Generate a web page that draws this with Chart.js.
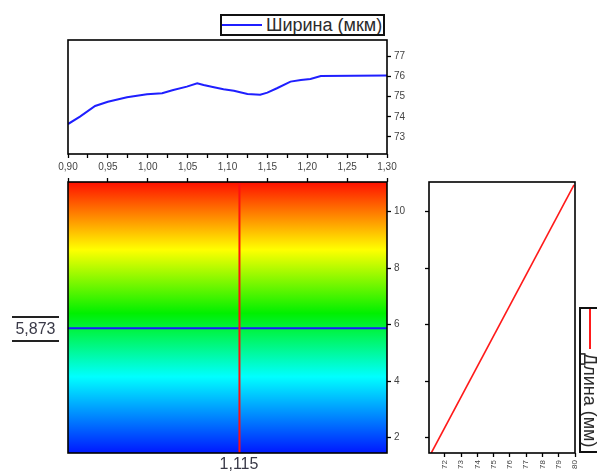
<!DOCTYPE html>
<html>
<head>
<meta charset="utf-8">
<script src="https://cdn.jsdelivr.net/npm/chart.js@4.4.1/dist/chart.umd.min.js"></script>
<style>
html,body{margin:0;padding:0;background:#fff;}
#wrap{position:relative;width:597px;height:473px;overflow:hidden;background:#fff;font-family:"Liberation Sans",Arial,sans-serif;}
#wrap canvas{position:absolute;left:0;top:0;}
.legend{position:absolute;box-sizing:border-box;border:2px solid #111;background:#fff;height:22px;display:flex;align-items:center;white-space:nowrap;overflow:hidden;}
.legend .sw{display:inline-block;width:40px;height:2px;margin-left:0;margin-right:4px;flex:none;}
.legend .txt{font-size:18px;line-height:18px;color:#2b2b2b;}
#lblY{position:absolute;left:12px;top:316px;width:47px;height:26px;box-sizing:border-box;border-top:2px solid #222;border-bottom:2px solid #222;font-size:16px;line-height:22px;text-align:center;color:#3a3a48;}
#lblX{position:absolute;left:209px;top:456px;width:60px;text-align:center;font-size:16px;line-height:16px;color:#3a3a48;}
</style>
</head>
<body>
<div id="wrap">
  <canvas id="cMain" width="597" height="473"></canvas>
  <canvas id="cTop" width="597" height="473"></canvas>
  <canvas id="cSide" width="597" height="473"></canvas>
  <div class="legend" id="legTop" style="left:220px;top:14px;width:165px;"><span class="sw" style="background:#1f1fff"></span><span class="txt">Ширина (мкм)</span></div>
  <div class="legend" id="legSide" style="left:517px;top:369px;width:146px;transform:rotate(90deg);"><span class="sw" style="background:#ff1a1a"></span><span class="txt">Длина (мм)</span></div>
  <div id="lblY"></div>
  <div id="lblX"></div>
</div>
<script>
// ---------- data ----------
// top profile: width (µm) vs X
const profileX = [0.900, 0.915, 0.934, 0.950, 0.974, 0.999, 1.018, 1.032, 1.049, 1.062, 1.070, 1.083, 1.095, 1.108, 1.125, 1.141, 1.150, 1.162, 1.179, 1.192, 1.204, 1.217, 1.300];
const widthUm  = [73.64, 74.01, 74.54, 74.75, 74.97, 75.12, 75.17, 75.33, 75.50, 75.67, 75.58, 75.47, 75.37, 75.30, 75.13, 75.10, 75.20, 75.42, 75.75, 75.83, 75.88, 76.03, 76.05];
// axis ranges
const xRange = [0.90, 1.30];
const yRange = [1.45, 11.05];
const widthRange = [72.15, 77.82];
const sideRange = [71.02, 80.0];
// heat map colour map (value -> colour)
const colorStopValues = [1.45, 4.15, 6.40, 8.65, 11.05];
const colorStopColors = ['#0018ff', '#00ffff', '#00f000', '#ffff00', '#ff1000'];
// cursor position
const cursorX = 1.115;
const cursorY = 5.873;
// side profile: length (mm) vs value
const sideValue  = [71.16, 79.94];
const sideLength = [1.45, 10.95];

// ---------- helpers ----------
const fmt = (v, d) => v.toFixed(d).replace('.', ',');
Chart.defaults.font.family = '"Liberation Sans", Arial, sans-serif';
Chart.defaults.color = '#444';
const frame = {id:'frame', afterDatasetsDraw(chart){
  const {ctx, chartArea:a} = chart;
  ctx.save(); ctx.strokeStyle = '#000'; ctx.lineWidth = 1.6;
  ctx.strokeRect(a.left, a.top, a.right - a.left, a.bottom - a.top);
  ctx.restore();
}};
const tickGrid = {display:true, drawOnChartArea:false, drawTicks:true, tickLength:4, color:'#000', tickColor:'#000', tickWidth:1.3};
const common = {responsive:false, animation:false, events:[], plugins:{legend:{display:false}, tooltip:{enabled:false}}};

document.getElementById('lblY').textContent = fmt(cursorY, 3);
document.getElementById('lblX').textContent = fmt(cursorX, 3);

// ---------- top profile ----------
new Chart(document.getElementById('cTop'), {
  type:'line',
  data:{datasets:[{data: profileX.map((x,i)=>({x, y: widthUm[i]})), borderColor:'#1f1fff', borderWidth:2, pointRadius:0, tension:0, fill:false}]},
  options:Object.assign({}, common, {
    layout:{padding:{left:68, top:40, right:180, bottom:294}},
    scales:{
      x:{type:'linear', position:'bottom', min:xRange[0], max:xRange[1], afterFit(s){s.height = 25;},
         grid:tickGrid, border:{display:false},
         ticks:{stepSize:0.025, autoSkip:false, minRotation:0, maxRotation:0, padding:3, font:{size:10},
                callback:v => Math.abs(Math.round(v/0.05)*0.05 - v) < 1e-6 ? fmt(v,2) : ''}},
      y:{type:'linear', position:'right', min:widthRange[0], max:widthRange[1], afterFit(s){s.width = 30;},
         grid:tickGrid, border:{display:false},
         ticks:{stepSize:1, includeBounds:false, padding:3, font:{size:10}, callback:v => String(v)}}
    }
  }),
  plugins:[frame]
});

// ---------- main heat map ----------
function heatFill(context){
  const ch = context.chart;
  if (!ch.chartArea) return colorStopColors[0];
  const ys = ch.scales.y;
  const v0 = colorStopValues[0], v1 = colorStopValues[colorStopValues.length-1];
  const g = ch.ctx.createLinearGradient(0, ys.getPixelForValue(v0), 0, ys.getPixelForValue(v1));
  colorStopValues.forEach((v,i) => g.addColorStop((v - v0)/(v1 - v0), colorStopColors[i]));
  return g;
}
new Chart(document.getElementById('cMain'), {
  type:'line',
  data:{datasets:[
    {order:10, data:[{x:xRange[0], y:yRange[1]}, {x:xRange[1], y:yRange[1]}], fill:{value:yRange[0]}, backgroundColor:heatFill, borderWidth:0, pointRadius:0},
    {order:2, data:[{x:xRange[0], y:cursorY}, {x:xRange[1], y:cursorY}], borderColor:'#1a1aff', borderWidth:2, pointRadius:0, fill:false},
    {order:1, data:[{x:cursorX, y:yRange[0]}, {x:cursorX, y:yRange[1]}], borderColor:'#ff1010', borderWidth:2, pointRadius:0, fill:false}
  ]},
  options:Object.assign({}, common, {
    layout:{padding:{left:68, top:172, right:180, bottom:20}},
    scales:{
      x:{type:'linear', position:'top', min:xRange[0], max:xRange[1], afterFit(s){s.height = 10;},
         grid:tickGrid, border:{display:false}, ticks:{display:false, stepSize:0.05}},
      y:{type:'linear', position:'right', min:yRange[0], max:yRange[1], afterFit(s){s.width = 30;},
         grid:tickGrid, border:{display:false},
         ticks:{stepSize:2, includeBounds:false, padding:3, font:{size:10}}}
    }
  }),
  plugins:[frame]
});

// ---------- side profile ----------
new Chart(document.getElementById('cSide'), {
  type:'line',
  data:{datasets:[{data: sideValue.map((x,i)=>({x, y: sideLength[i]})), borderColor:'#ff1a1a', borderWidth:1.6, pointRadius:0, fill:false}]},
  options:Object.assign({}, common, {
    layout:{padding:{left:421, top:182, right:22, bottom:0}},
    scales:{
      x:{type:'linear', position:'bottom', min:sideRange[0], max:sideRange[1], afterFit(s){s.height = 20;},
         grid:tickGrid, border:{display:false},
         ticks:{stepSize:1, includeBounds:false, autoSkip:false, minRotation:90, maxRotation:90, padding:3, font:{size:8}}},
      y:{type:'linear', position:'left', min:yRange[0], max:yRange[1], afterFit(s){s.width = 8;},
         grid:tickGrid, border:{display:false}, ticks:{display:false, stepSize:2, includeBounds:false}}
    }
  }),
  plugins:[frame]
});
</script>
</body>
</html>
